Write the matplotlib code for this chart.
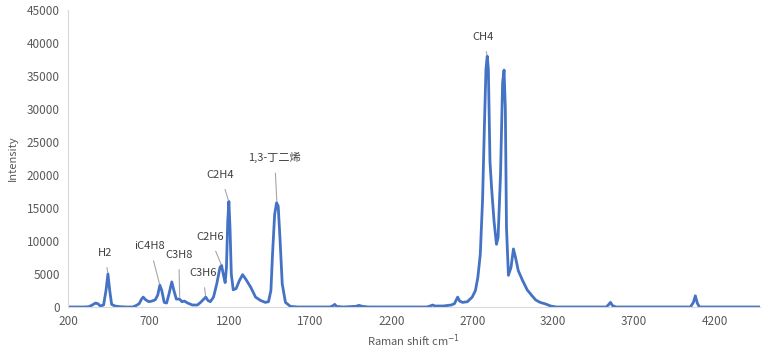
import matplotlib
matplotlib.use("Agg")
import matplotlib.pyplot as plt

plt.rcParams['font.family'] = ['Noto Sans CJK SC', 'DejaVu Sans']

# Raman spectrum points (wavenumber, intensity)
shift = [200, 300, 330, 350, 370, 385, 400, 420, 435, 447, 458, 470, 490, 520, 560,
         600, 620, 640, 655, 665, 680, 700, 720, 740, 755, 768, 780, 795, 810, 825,
         842, 855, 870, 890, 905, 920, 940, 970, 1000, 1020, 1040, 1052, 1065, 1080,
         1100, 1120, 1140, 1150, 1160, 1172, 1180, 1188, 1195, 1202, 1210, 1222, 1240,
         1260, 1280, 1300, 1330, 1360, 1390, 1420, 1440, 1455, 1465, 1478, 1490, 1500,
         1512, 1525, 1545, 1575, 1620, 1820, 1840, 1850, 1860, 1900, 1980, 2000, 2020,
         2060, 2420, 2440, 2455, 2470, 2520, 2570, 2590, 2600, 2610, 2622, 2640, 2670,
         2700, 2720, 2735, 2750, 2764, 2775, 2785, 2793, 2800, 2810, 2820, 2835, 2850,
         2860, 2875, 2888, 2897, 2905, 2912, 2924, 2940, 2955, 2968, 2985, 3010, 3040,
         3070, 3093, 3120, 3155, 3185, 3220, 3530, 3545, 3555, 3568, 3590, 4050, 4068,
         4080, 4092, 4105, 4480]
intensity = [0, 0, 50, 300, 600, 500, 150, 300, 2500, 5000, 2500, 400, 150, 50, 0,
             0, 200, 500, 1200, 1500, 1100, 800, 900, 1100, 1800, 3300, 2500, 700, 600, 2000,
             3800, 2500, 1200, 1200, 800, 900, 600, 300, 300, 700, 1200, 1500, 1000, 800,
             1500, 3500, 6000, 6300, 5000, 3700, 6000, 13000, 16000, 12000, 5000, 2600, 2800,
             4000, 4900, 4200, 3000, 1500, 1000, 700, 800, 2500, 8000, 14000, 15800, 15300,
             10000, 3500, 700, 100, 0, 0, 200, 400, 100, 0, 100, 250, 100,
             0, 0, 150, 300, 150, 150, 300, 500, 1000, 1500, 900, 700, 800,
             1500, 2500, 4500, 8000, 16200, 27000, 36000, 38000, 36000, 22000, 18000, 13000, 9500,
             10500, 20000, 34000, 35900, 30000, 12000, 4800, 6000, 8800, 7500, 5500, 4100, 2600,
             1700, 1060, 700, 450, 150, 0, 0, 400, 700, 200, 0, 0, 700,
             1700, 600, 0, 0]

# annotations: label, text position, arrow target
labels = ['H2', 'iC4H8', 'C3H8', 'C3H6', 'C2H6', 'C2H4', '1,3-丁二烯', 'CH4']
label_xy = [(428, 8200), (706, 9200), (885, 7900), (1033, 5150), (1077, 10600),
            (1144, 20000), (1478, 22600), (2768, 40900)]
target_xy = [(447, 5000), (768, 3300), (891, 1300), (1052, 1500), (1150, 6300),
             (1194, 16000), (1492, 15800), (2793, 38000)]

fig = plt.figure(figsize=(7.8, 3.54), dpi=100)
ax = fig.add_axes([68/780, 47/354, 692/780, 297/354])
ax.plot(shift, intensity, color='#4472C4', lw=2.0, solid_joinstyle='round')

ax.set_xlim(200, 4480)
ax.set_ylim(0, 45000)
ax.set_xticks(range(200, 4300, 500))
ax.set_yticks(range(0, 45001, 5000))
for s in ['top', 'right']:
    ax.spines[s].set_visible(False)
for s in ['left', 'bottom']:
    ax.spines[s].set_color('#D9D9D9')
    ax.spines[s].set_linewidth(0.8)
ax.tick_params(length=0, labelsize=8.5, colors='#595959', pad=6)
ax.set_ylabel('Intensity', fontsize=8, color='#595959', labelpad=6)
ax.set_xlabel('Raman shift cm$^{-1}$', fontsize=8, color='#595959', labelpad=3)

for lab, (tx, ty), (px, py) in zip(labels, label_xy, target_xy):
    ax.annotate(lab, xy=(px, py), xytext=(tx, ty), ha='center', va='center',
                fontsize=8, color='#404040',
                arrowprops=dict(arrowstyle='-', color='#A6A6A6', lw=0.8,
                                shrinkA=5, shrinkB=1))

fig.savefig('out.png', dpi=100)
